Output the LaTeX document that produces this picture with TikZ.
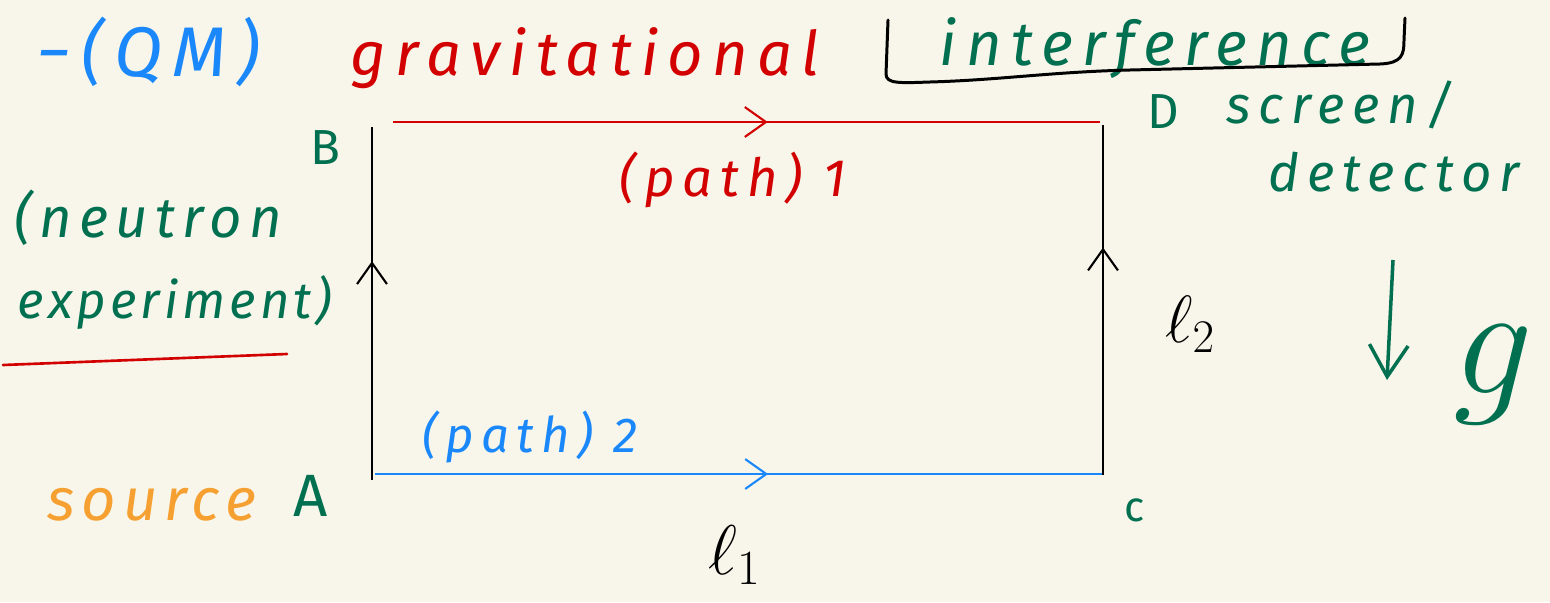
\documentclass[tikz,border=0pt]{standalone}
\usepackage{fix-cm}
\usepackage{fontspec}
\setmainfont{Fira Sans}
\newfontfamily\hand[LetterSpace=15]{Fira Sans}
\usetikzlibrary{arrows.meta,decorations.markings}

\definecolor{paper}{RGB}{248,246,234}
\definecolor{penblue}{RGB}{26,136,250}
\definecolor{penred}{RGB}{210,0,0}
\definecolor{pengreen}{RGB}{0,112,80}
\definecolor{penorange}{RGB}{245,160,48}

\tikzset{
  hw/.style={inner sep=0pt, font=\hand\itshape\fontsize{#1}{#1}\selectfont},
  letter/.style={inner sep=0pt, text=pengreen, font=\hand\fontsize{#1}{#1}\selectfont},
  barb/.tip={Straight Barb[length=12pt,width=17pt,line width=1.2pt]},
  midarrow/.style={postaction={decorate},
    decoration={markings, mark=at position #1 with {\arrow{barb}}}},
  leg/.style={line width=1.1pt}
}

\begin{document}
\begin{tikzpicture}[x=0.02cm,y=-0.02cm]
	% paper
	\fill[paper] (0,0) rectangle (1550,602);
	\useasboundingbox (0,0) rectangle (1550,602);

	% Heading
	\node[hw=40, text=penblue] (qm) at (148,52) {−(QM)};
	\node[hw=35, text=penred] (grav) at (585,58) {gravitational};
	\node[hw=35, text=pengreen] (interf) at (1155,48) {interference};
	\draw[line width=1.7pt, line cap=round] (888,20) -- (886,74)
		.. controls (886,84) and (900,83) .. (930,82)
		.. controls (1000,80) and (1050,72) .. (1130,70) -- (1380,64)
		.. controls (1402,63) and (1404,55) .. (1404,40) -- (1405,18);

	% Corners of the loop
	\coordinate (A) at (372,480);
	\coordinate (B) at (372,127);
	\coordinate (C) at (1103,475);
	\coordinate (D) at (1103,125);
	\coordinate (p1s) at (393,122);
	\coordinate (p1e) at (1100,122);
	\coordinate (p2s) at (375,474);
	\coordinate (p2e) at (1103,474);

	% Paths 1 and 2
	\draw[leg, penred, midarrow=0.53] (p1s) -- (p1e);
	\draw[leg, penblue, midarrow=0.54] (p2s) -- (p2e);
	\draw[leg, midarrow=0.62] (A) -- (B);
	\draw[leg, midarrow=0.65] (C) -- (D);

	% Labels of the loop
	\node[letter=28] (lB) at (325,148) {B};
	\node[letter=28] (lD) at (1163,112) {D};
	\node[letter=34] (lA) at (311,496) {A};
	\node[letter=24] (lC) at (1135,510) {c};
	\node[hw=30, text=penred] (path1) at (733,180) {(path) 1};
	\node[hw=28, text=penblue] (path2) at (530,437) {(path) 2};
	\node[inner sep=0pt, font=\fontsize{40}{40}\selectfont] (l1) at (735,555) {$\ell_1$};
	\node[inner sep=0pt, font=\fontsize{38}{38}\selectfont] (l2) at (1190,324) {$\ell_2$};

	% Side notes
	\node[hw=34, text=penorange] (src) at (152,505) {\addfontfeature{LetterSpace=11}source};
	\node[hw=32, text=pengreen] (neut) at (148,218) {\addfontfeature{LetterSpace=13}(neutron};
	\node[hw=29, text=pengreen] (expt) at (175,303) {\addfontfeature{LetterSpace=8}experiment)};
	\draw[line width=1.5pt, penred, line cap=round] (3,365) -- (287,354);
	\node[hw=30, text=pengreen] (scr) at (1340,105) {screen/};
	\node[hw=30, text=pengreen] (det) at (1394,172) {detector};

	% gravity
	\coordinate (gtop) at (1393,260);
	\coordinate (gbot) at (1387,380);
	\draw[line width=2pt, pengreen, -{Straight Barb[length=18pt,width=22pt,line width=2pt]}] (gtop) -- (gbot);
	\node[inner sep=0pt, text=pengreen, font=\fontsize{90}{90}\selectfont] (g) at (1493,375) {$g$};
\end{tikzpicture}
\end{document}
